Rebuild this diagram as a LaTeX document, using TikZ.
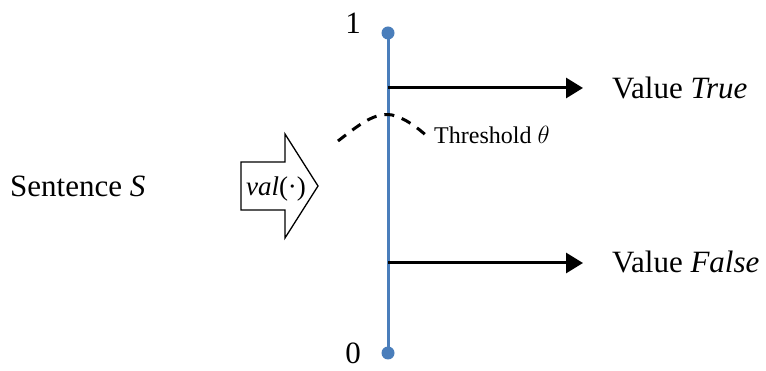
\documentclass[tikz,border=0pt]{standalone}
\usepackage{fontspec}
\setmainfont{Liberation Serif}
\usetikzlibrary{arrows.meta}
\definecolor{axisblue}{HTML}{4A7EBB}
\tikzset{
  lbl/.style={font=\fontsize{31}{34}\selectfont, inner sep=0pt},
  mid/.style={font=\fontsize{27}{30}\selectfont, inner sep=0pt},
  small/.style={font=\fontsize{24}{27}\selectfont, inner sep=0pt},
  outarrow/.style={line width=3pt, -{Triangle[length=17pt,width=20pt]}},
  dot/.style={circle, fill=axisblue, minimum size=13pt, inner sep=0pt},
}
\begin{document}
\begin{tikzpicture}[x=1pt,y=-1pt]
\useasboundingbox (0,0) rectangle (766,371);
% axis
\draw[axisblue, line width=3pt] (388,33) -- (388,353);
\node[dot] (top) at (388,33) {};
\node[dot] (bot) at (388,353) {};
\node[lbl] (one) at (353,23) {1};
\node[lbl] (zero) at (353,353) {0};
% output arrows
\coordinate (t0) at (388,88);
\coordinate (f0) at (388,263);
\node[lbl, anchor=base west] (vt) at (612,99) {Value \textit{True}};
\node[lbl, anchor=base west] (vf) at (612,273) {Value \textit{False}};
\coordinate (t1) at (583,88);
\coordinate (f1) at (583,263);
\draw[outarrow] (t0) -- (t1);
\draw[outarrow] (f0) -- (f1);
% threshold
\draw[line width=3pt, dash pattern=on 10pt off 8pt] (338,141) .. controls (360,124) and (375,112) .. (392,115) .. controls (405,118) and (418,128) .. (428,137);
\node[small, anchor=base west] (th) at (434,144) {Threshold $\theta$};
% big arrow
\draw[line width=1.3pt, fill=white] (241,162) -- (285,162) -- (285,134) -- (318,186) -- (285,238) -- (285,210) -- (241,210) -- cycle;
\node[mid, anchor=base] (val) at (276,196) {\textit{val}(·)};
\node[lbl, anchor=base west] (sent) at (10,197) {Sentence \textit{S}};
\end{tikzpicture}
\end{document}
